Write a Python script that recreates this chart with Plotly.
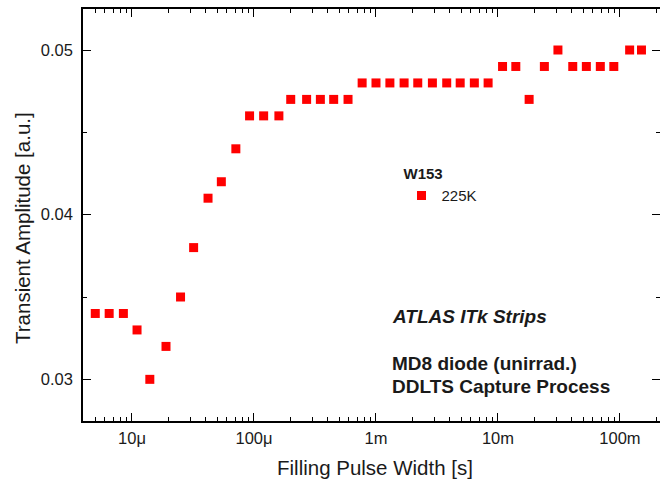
import plotly.graph_objects as go

# Filling pulse width [s] and transient amplitude [a.u.] for W153 at 225 K
pulse_width = [5.0e-6, 6.5e-6, 8.5e-6, 1.1e-5, 1.4e-5, 1.9e-5, 2.5e-5, 3.2e-5,
               4.2e-5, 5.4e-5, 7.1e-5, 9.2e-5, 1.2e-4, 1.6e-4, 2.0e-4, 2.7e-4,
               3.5e-4, 4.5e-4, 5.9e-4, 7.7e-4, 1.0e-3, 1.3e-3, 1.7e-3, 2.2e-3,
               2.9e-3, 3.8e-3, 4.9e-3, 6.4e-3, 8.3e-3, 1.09e-2, 1.4e-2, 1.8e-2,
               2.4e-2, 3.1e-2, 4.1e-2, 5.3e-2, 6.9e-2, 8.9e-2, 1.2e-1, 1.5e-1]
amplitude = [0.034, 0.034, 0.034, 0.033, 0.030, 0.032, 0.035, 0.038,
             0.041, 0.042, 0.044, 0.046, 0.046, 0.046, 0.047, 0.047,
             0.047, 0.047, 0.047, 0.048, 0.048, 0.048, 0.048, 0.048,
             0.048, 0.048, 0.048, 0.048, 0.048, 0.049, 0.049, 0.047,
             0.049, 0.050, 0.049, 0.049, 0.049, 0.049, 0.050, 0.050]

x_tick_values = [1e-5, 1e-4, 1e-3, 1e-2, 1e-1]
x_tick_labels = ["10μ", "100μ", "1m", "10m", "100m"]
y_tick_values = [0.03, 0.04, 0.05]
y_tick_labels = ["0.03", "0.04", "0.05"]
y_minor_values = [0.035, 0.045]
x_minor_values = [m * 10.0 ** e for e in range(-6, 0) for m in range(2, 10)]

X_RANGE = [-5.4016, -0.672]
Y_RANGE = [0.02747, 0.05249]

FONT = "Liberation Sans, Arial, sans-serif"
RED = "#ff0000"
TEXT = "#1a1a1a"

# plot area in pixels (left, right, top, bottom)
L, R, T, B = 83, 660, 9, 421
W, H = 660, 481


def px_x(p):
    return (p - L) / (R - L)


def px_y(p):
    return (B - p) / (B - T)


fig = go.Figure()
fig.add_trace(go.Scatter(
    x=pulse_width, y=amplitude, mode="markers", name="225K",
    marker=dict(symbol="square", size=9, color=RED, line=dict(width=0)),
    hoverinfo="x+y",
))
# same data on the overlaid right axis (transparent), so that axis is drawn
fig.add_trace(go.Scatter(
    x=pulse_width, y=amplitude, mode="markers", yaxis="y2",
    marker=dict(opacity=0), showlegend=False, hoverinfo="skip",
))

tick_font = dict(family=FONT, size=16.5, color=TEXT)

fig.update_layout(
    width=W, height=H,
    margin=dict(l=L, r=W - R, t=T, b=H - B),
    plot_bgcolor="white", paper_bgcolor="white",
    xaxis=dict(
        type="log", range=X_RANGE,
        tickvals=x_tick_values, ticktext=x_tick_labels,
        showline=True, linecolor="black", linewidth=1.5, mirror="ticks",
        ticks="inside", ticklen=8, tickwidth=1.2, tickcolor="black",
        minor=dict(tickvals=x_minor_values, ticks="inside", ticklen=4,
                   tickwidth=1, tickcolor="black", showgrid=False),
        showgrid=False, zeroline=False,
        tickfont=tick_font, ticklabelstandoff=1,
    ),
    yaxis=dict(
        range=Y_RANGE,
        tickvals=y_tick_values, ticktext=y_tick_labels,
        showline=True, linecolor="black", linewidth=1.5, mirror=False,
        ticks="inside", ticklen=8, tickwidth=1.2, tickcolor="black",
        minor=dict(tickvals=y_minor_values, ticks="inside", ticklen=4,
                   tickwidth=1, tickcolor="black", showgrid=False),
        showgrid=False, zeroline=False,
        tickfont=tick_font, ticklabelstandoff=5,
    ),
    yaxis2=dict(
        range=Y_RANGE, overlaying="y", side="right",
        tickvals=y_tick_values, showticklabels=False,
        showline=False, ticks="inside", ticklen=8, tickwidth=1.2, tickcolor="black",
        minor=dict(tickvals=y_minor_values, ticks="inside", ticklen=4,
                   tickwidth=1, tickcolor="black", showgrid=False),
        showgrid=False, zeroline=False,
    ),
    showlegend=True,
    legend=dict(
        title=dict(text="<b>W153</b>", font=dict(family=FONT, size=15, color=TEXT)),
        x=0.552, y=0.634, xanchor="left", yanchor="top",
        bgcolor="rgba(0,0,0,0)", borderwidth=0,
        font=dict(family=FONT, size=15, color=TEXT),
        tracegroupgap=0,
    ),
    annotations=[
        dict(text="Filling Pulse Width [s]", xref="paper", yref="paper",
             x=px_x(375), y=px_y(467), xanchor="center", yanchor="middle",
             showarrow=False, font=dict(family=FONT, size=20.5, color=TEXT)),
        dict(text="Transient Amplitude [a.u.]", xref="paper", yref="paper",
             x=px_x(22), y=px_y(228), xanchor="center", yanchor="middle",
             textangle=-90, showarrow=False,
             font=dict(family=FONT, size=20.5, color=TEXT)),
        dict(text="<b><i>ATLAS ITk Strips</i></b>", xref="paper", yref="paper",
             x=px_x(390), y=px_y(316), xanchor="left", yanchor="middle",
             showarrow=False, font=dict(family=FONT, size=19, color=TEXT)),
        dict(text="<b>MD8 diode (unirrad.)</b>", xref="paper", yref="paper",
             x=px_x(390), y=px_y(363.3), xanchor="left", yanchor="middle",
             showarrow=False, font=dict(family=FONT, size=19, color=TEXT)),
        dict(text="<b>DDLTS Capture Process</b>", xref="paper", yref="paper",
             x=px_x(390), y=px_y(386.7), xanchor="left", yanchor="middle",
             showarrow=False, font=dict(family=FONT, size=19, color=TEXT)),
    ],
)

fig.write_html("out.html")
